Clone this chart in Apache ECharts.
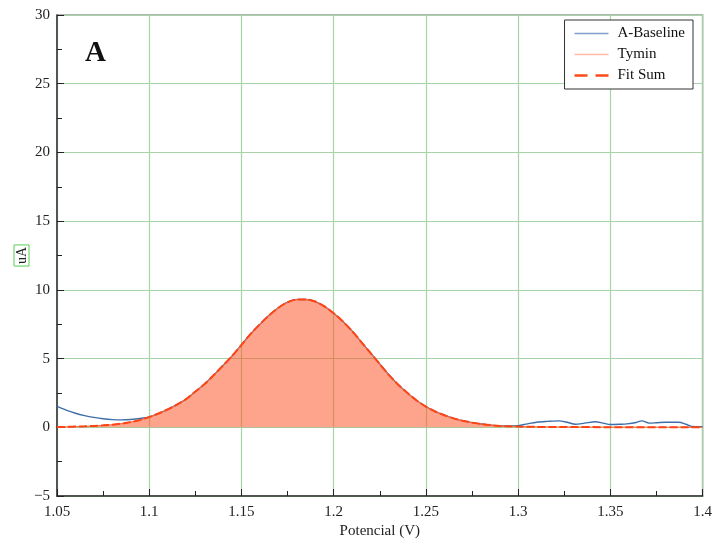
<!DOCTYPE html>
<html>
<head>
<meta charset="utf-8">
<script src="https://cdn.jsdelivr.net/npm/echarts@6/dist/echarts.min.js"></script>
<style>
html, body { margin: 0; padding: 0; background: #fff; }
#chart { width: 715px; height: 544px; }
</style>
</head>
<body>
<div id="chart"></div>
<script>
// potential (V) and current (uA)
var fitV = [1.05, 1.055, 1.06, 1.065, 1.07, 1.075, 1.08, 1.085, 1.09, 1.095,
    1.10, 1.105, 1.11, 1.115, 1.12, 1.125, 1.13, 1.135, 1.14, 1.145,
    1.15, 1.155, 1.16, 1.165, 1.17, 1.175, 1.18, 1.185, 1.19, 1.195,
    1.20, 1.205, 1.21, 1.215, 1.22, 1.225, 1.23, 1.235, 1.24, 1.245,
    1.25, 1.255, 1.26, 1.265, 1.27, 1.275, 1.28, 1.285, 1.29, 1.295,
    1.30, 1.31, 1.32, 1.35, 1.40];
var fitI = [0.02, 0.03, 0.05, 0.07, 0.1, 0.14, 0.19, 0.27, 0.38, 0.53,
    0.74, 1.0, 1.3, 1.65, 2.05, 2.6, 3.15, 3.8, 4.5, 5.2,
    6.0, 6.8, 7.5, 8.15, 8.7, 9.1, 9.3, 9.3, 9.15, 8.8,
    8.3, 7.7, 7.0, 6.2, 5.4, 4.6, 3.8, 3.1, 2.5, 1.95,
    1.5, 1.15, 0.88, 0.65, 0.47, 0.34, 0.24, 0.16, 0.1, 0.07,
    0.05, 0.03, 0.02, 0.01, 0.0];

var baseV = [1.05, 1.055, 1.06, 1.065, 1.07, 1.075, 1.08, 1.085, 1.09, 1.095,
    1.10, 1.105, 1.11, 1.115, 1.12, 1.125, 1.13, 1.135, 1.14, 1.145,
    1.15, 1.155, 1.16, 1.165, 1.17, 1.175, 1.18, 1.185, 1.19, 1.195,
    1.20, 1.205, 1.21, 1.215, 1.22, 1.225, 1.23, 1.235, 1.24, 1.245,
    1.25, 1.255, 1.26, 1.265, 1.27, 1.275, 1.28, 1.285, 1.29, 1.295,
    1.30, 1.305, 1.31, 1.316, 1.322, 1.327, 1.331, 1.336, 1.342, 1.346,
    1.35, 1.355, 1.359, 1.364, 1.367, 1.371, 1.375, 1.38, 1.387, 1.391,
    1.394, 1.40];
var baseI = [1.52, 1.25, 1.02, 0.85, 0.72, 0.62, 0.56, 0.54, 0.57, 0.64,
    0.75, 1.0, 1.3, 1.65, 2.05, 2.6, 3.15, 3.8, 4.5, 5.2,
    6.0, 6.8, 7.5, 8.15, 8.7, 9.1, 9.3, 9.3, 9.15, 8.8,
    8.3, 7.7, 7.0, 6.2, 5.4, 4.6, 3.8, 3.1, 2.5, 1.95,
    1.5, 1.15, 0.88, 0.65, 0.47, 0.34, 0.24, 0.16, 0.1, 0.09,
    0.12, 0.25, 0.37, 0.43, 0.47, 0.35, 0.22, 0.3, 0.4, 0.3,
    0.2, 0.22, 0.25, 0.35, 0.47, 0.3, 0.33, 0.37, 0.37, 0.22,
    0.07, 0.05];

var xTicks = ['1.05', '1.1', '1.15', '1.2', '1.25', '1.3', '1.35', '1.4'];

function pairs(xs, ys) {
    var out = [];
    for (var i = 0; i < xs.length; i++) out.push([xs[i], ys[i]]);
    return out;
}

var serif = 'Liberation Serif';
var gridGreen = '#a6d4a6';
var solidIcon = 'path://M0,0 L34,0 L34,1.4 L0,1.4 Z';
var dashIcon = 'path://M0,0 L13,0 L13,2.6 L0,2.6 Z M21,0 L34,0 L34,2.6 L21,2.6 Z';

var myChart = echarts.init(document.getElementById('chart'));
var option = {
    animation: false,
    backgroundColor: '#fff',
    textStyle: { fontFamily: serif },
    title: {
        text: 'A',
        left: 80,
        top: 34,
        textStyle: { fontFamily: serif, fontWeight: 'bold', fontSize: 29, color: '#111' }
    },
    grid: {
        left: 57, right: 12, top: 15, bottom: 48,
        show: true, borderColor: '#999', borderWidth: 1.5, backgroundColor: 'transparent'
    },
    legend: {
        orient: 'vertical',
        right: 22,
        top: 20,
        padding: [6, 8, 6, 10],
        itemGap: 6,
        itemWidth: 34,
        itemHeight: 10,
        backgroundColor: '#fff',
        borderColor: '#333',
        borderWidth: 1,
        borderRadius: 0,
        textStyle: { fontFamily: serif, fontSize: 15, color: '#111', lineHeight: 15, padding: [0, 0, 0, 4] },
        data: [
            { name: 'A-Baseline', icon: solidIcon, itemStyle: { color: '#7f9fcb' } },
            { name: 'Tymin', icon: solidIcon, itemStyle: { color: '#ffbba8' } },
            { name: 'Fit Sum', icon: dashIcon, itemStyle: { color: '#ff4a1a' } }
        ]
    },
    xAxis: {
        type: 'value',
        min: 1.05,
        max: 1.4,
        interval: 0.05,
        name: 'Potencial (V)',
        nameLocation: 'middle',
        nameGap: 28,
        nameMoveOverlap: false,
        nameTextStyle: { fontFamily: serif, fontSize: 15, color: '#222' },
        axisLine: { show: true, onZero: false, lineStyle: { color: '#333', width: 1.5 } },
        axisTick: { show: true, inside: true, length: 7, lineStyle: { color: '#222' } },
        minorTick: { show: true, splitNumber: 2, length: 5, lineStyle: { color: '#222' } },
        axisLabel: {
            fontFamily: serif, fontSize: 15, color: '#222', margin: 9,
            formatter: function (v) {
                var i = Math.round((v - 1.05) / 0.05);
                return xTicks[i] !== undefined ? xTicks[i] : '';
            }
        },
        splitLine: { show: true, lineStyle: { color: gridGreen, width: 1.2 } }
    },
    yAxis: {
        type: 'value',
        min: -5,
        max: 30,
        interval: 5,
        name: 'uA',
        nameLocation: 'middle',
        nameRotate: 90,
        nameGap: 28,
        nameMoveOverlap: false,
        nameTextStyle: {
            fontFamily: serif, fontSize: 14, color: '#222',
            borderColor: '#55d055', borderWidth: 1, padding: [1, 2, 0, 2]
        },
        axisLine: { show: true, onZero: false, lineStyle: { color: '#333', width: 1.5 } },
        axisTick: { show: true, inside: true, length: 7, lineStyle: { color: '#222' } },
        minorTick: { show: true, splitNumber: 2, length: 5, lineStyle: { color: '#222' } },
        axisLabel: {
            fontFamily: serif, fontSize: 15, color: '#222', margin: 7,
            formatter: function (v) { return v < 0 ? '\u2212' + Math.abs(v) : String(v); }
        },
        splitLine: { show: true, lineStyle: { color: gridGreen, width: 1.2 } }
    },
    series: [
        {
            name: 'A-Baseline',
            type: 'line',
            data: pairs(baseV, baseI),
            showSymbol: false,
            smooth: 0.3,
            z: 1,
            lineStyle: { color: '#3d6ea8', width: 1.4 },
            itemStyle: { color: '#3d6ea8' }
        },
        {
            name: 'Tymin',
            type: 'line',
            data: pairs(fitV, fitI),
            showSymbol: false,
            smooth: 0.3,
            z: 2,
            lineStyle: { color: '#ff6a40', width: 1 },
            itemStyle: { color: '#ffbba8' },
            areaStyle: { color: '#ff4a1a', opacity: 0.5, origin: 0 }
        },
        {
            name: 'Fit Sum',
            type: 'line',
            data: pairs(fitV, fitI),
            showSymbol: false,
            smooth: 0.3,
            z: 3,
            lineStyle: { color: '#ff4312', width: 2, type: [8, 3] },
            itemStyle: { color: '#ff4312' }
        }
    ]
};
myChart.setOption(option);
</script>
</body>
</html>
